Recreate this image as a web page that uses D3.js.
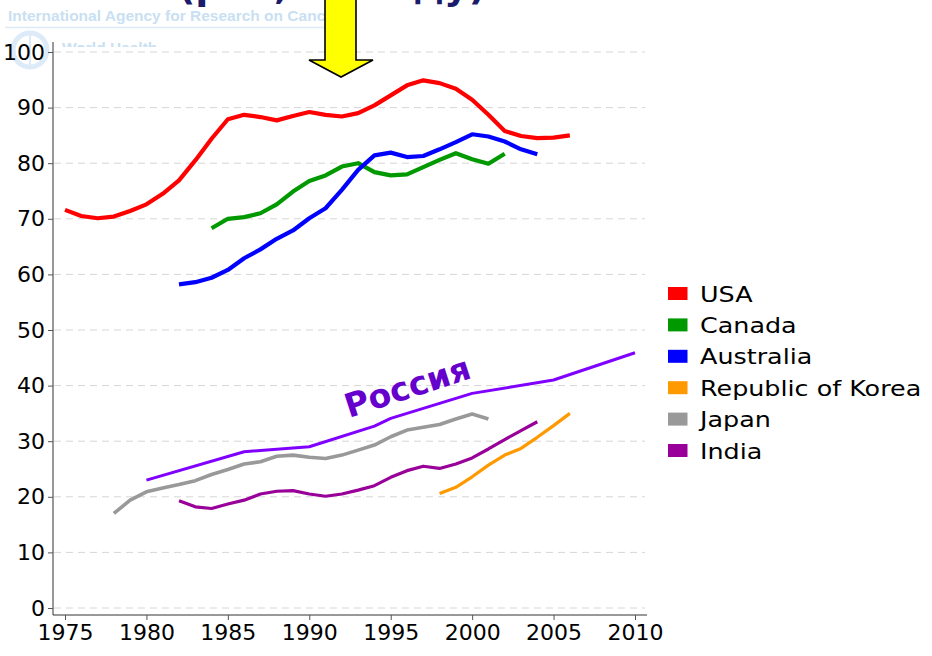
<!DOCTYPE html>
<html>
<head>
<meta charset="utf-8">
<title>Line chart</title>
<script src="https://cdnjs.cloudflare.com/ajax/libs/d3/7.8.5/d3.min.js"></script>
<style>
    body { margin: 0; background: #fff; }
    svg { display: block; font-family: "DejaVu Sans", Verdana, sans-serif; }
</style>
</head>
<body>
<script>

// series as [year, value]
let usa = [[1975,71.6],[1976,70.5],[1977,70.1],[1978,70.4],[1979,71.4],[1980,72.6],[1981,74.5],[1982,76.9],
           [1983,80.5],[1984,84.4],[1985,87.9],[1986,88.7],[1987,88.3],[1988,87.7],[1989,88.5],[1990,89.2],
           [1991,88.7],[1992,88.4],[1993,89.0],[1994,90.4],[1995,92.2],[1996,94.0],[1997,94.9],[1998,94.4],
           [1999,93.4],[2000,91.4],[2001,88.7],[2002,85.8],[2003,84.9],[2004,84.5],[2005,84.6],[2006,85.0]];
let canada = [[1984,68.3],[1985,70.0],[1986,70.3],[1987,71.0],[1988,72.6],[1989,74.9],[1990,76.8],[1991,77.8],
              [1992,79.4],[1993,80.0],[1994,78.4],[1995,77.8],[1996,78.0],[1997,79.3],[1998,80.6],[1999,81.8],
              [2000,80.7],[2001,79.9],[2002,81.7]];
let australia = [[1982,58.2],[1983,58.6],[1984,59.4],[1985,60.8],[1986,62.9],[1987,64.5],[1988,66.4],[1989,67.9],
                 [1990,70.1],[1991,71.9],[1992,75.2],[1993,78.8],[1994,81.4],[1995,81.9],[1996,81.1],[1997,81.3],
                 [1998,82.5],[1999,83.8],[2000,85.2],[2001,84.8],[2002,83.9],[2003,82.5],[2004,81.6]];
let korea = [[1998,20.6],[1999,21.7],[2000,23.6],[2001,25.7],[2002,27.5],[2003,28.7],[2004,30.7],[2005,32.8],[2006,35.0]];
let japan = [[1978,17.0],[1979,19.4],[1980,20.9],[1981,21.6],[1982,22.2],[1983,22.9],[1984,24.0],[1985,24.9],
             [1986,25.9],[1987,26.3],[1988,27.3],[1989,27.5],[1990,27.1],[1991,26.9],[1992,27.5],[1993,28.4],
             [1994,29.3],[1995,30.8],[1996,32.0],[1997,32.5],[1998,33.0],[1999,34.0],[2000,34.9],[2001,34.0]];
let india = [[1982,19.3],[1983,18.2],[1984,17.9],[1985,18.7],[1986,19.4],[1987,20.5],[1988,21.0],[1989,21.1],
             [1990,20.5],[1991,20.1],[1992,20.5],[1993,21.2],[1994,22.0],[1995,23.5],[1996,24.7],[1997,25.5],
             [1998,25.1],[1999,25.9],[2000,27.0],[2001,28.6],[2002,30.3],[2003,31.9],[2004,33.5]];
let russia = [[1980,23.0],[1986,28.1],[1990,29.0],[1994,32.7],[1995,34.1],[2000,38.6],[2005,41.0],[2010,45.9]];

let countries = ["USA", "Canada", "Australia", "Republic of Korea", "Japan", "India"];
let countryColors = ["#ff0000", "#009900", "#0000ff", "#ff9900", "#999999", "#990099"];
let countryData = [usa, canada, australia, korea, japan, india];
let lineWidths = [4.2, 4.2, 4.2, 3.2, 3.6, 3.2];

let yTicks = [0, 10, 20, 30, 40, 50, 60, 70, 80, 90, 100];
let xTicks = [1975, 1980, 1985, 1990, 1995, 2000, 2005, 2010];

let width = 932, height = 656;

let svg = d3.select("body").append("svg")
    .attr("width", width)
    .attr("height", height);

// background watermark (IARC / WHO)
let wm = svg.append("g").attr("fill", "#c9dff2");
wm.append("text")
    .attr("x", 8).attr("y", 21)
    .attr("font-family", "'Liberation Sans', Arial, sans-serif")
    .attr("font-weight", "bold").attr("font-size", 15.5)
    .text("International Agency for Research on Cancer");
wm.append("line")
    .attr("x1", 5).attr("x2", 330).attr("y1", 27.5).attr("y2", 27.5)
    .attr("stroke", "#dcebf7").attr("stroke-width", 1.5);
wm.append("circle").attr("cx", 30).attr("cy", 50).attr("r", 17)
    .attr("fill", "none").attr("stroke", "#dcebf7").attr("stroke-width", 5);
wm.append("line").attr("x1", 30).attr("x2", 30).attr("y1", 32).attr("y2", 68)
    .attr("stroke", "#dcebf7").attr("stroke-width", 2);
wm.append("text")
    .attr("x", 62).attr("y", 53)
    .attr("font-family", "'Liberation Sans', Arial, sans-serif")
    .attr("font-weight", "bold").attr("font-size", 15.5)
    .text("World Health");

// plot paper covers the lower part of the watermark
svg.append("rect")
    .attr("x", 58).attr("y", 47)
    .attr("width", width - 58).attr("height", height - 47)
    .attr("fill", "#fff");

// cut-off title at the very top
svg.append("text")
    .attr("x", 178).attr("y", -1)
    .attr("fill", "#1b1b6b")
    .attr("font-weight", "bold").attr("font-size", 38)
    .text("(рак, по году)");

let x = d3.scaleLinear().domain([1975, 2010]).range([65, 635]);
let y = d3.scaleLinear().domain([0, 100]).range([608, 52]);

// grid
svg.append("g")
    .selectAll("line")
    .data(yTicks)
    .join("line")
        .attr("x1", 54).attr("x2", 645)
        .attr("y1", d => y(d)).attr("y2", d => y(d))
        .attr("stroke", "#d6d6d6")
        .attr("stroke-dasharray", "7,5");

// axes
let yAxis = svg.append("g")
    .attr("transform", "translate(53,0)")
    .call(d3.axisLeft(y).tickValues(yTicks).tickSize(5).tickPadding(3));
yAxis.select(".domain").attr("d", "M0,42V615").attr("stroke", "#333");

let xAxis = svg.append("g")
    .attr("transform", "translate(0,615)")
    .call(d3.axisBottom(x).tickValues(xTicks).tickFormat(d3.format("d")).tickSize(5).tickPadding(4));
xAxis.select(".domain").attr("d", "M53,0H647").attr("stroke", "#333");

svg.selectAll(".tick line").attr("stroke", "#555");
svg.selectAll(".tick text")
    .attr("font-family", "'DejaVu Sans', Verdana, sans-serif")
    .attr("font-size", 22)
    .attr("fill", "#000");

// lines
let line = d3.line()
    .x(d => x(d[0]))
    .y(d => y(d[1]));

svg.append("g")
    .selectAll("path")
    .data(countryData)
    .join("path")
        .attr("d", line)
        .attr("fill", "none")
        .attr("stroke", (d, i) => countryColors[i])
        .attr("stroke-width", (d, i) => lineWidths[i])
        .attr("stroke-linejoin", "round");

svg.append("path")
    .datum(russia)
    .attr("d", line)
    .attr("fill", "none")
    .attr("stroke", "#8000ff")
    .attr("stroke-width", 3)
    .attr("stroke-linejoin", "round");

svg.append("text")
    .attr("transform", "translate(349,418) rotate(-18)")
    .attr("fill", "#6600cc")
    .attr("font-weight", "bold")
    .attr("font-size", 33)
    .text("Россия");

// legend
let legend = svg.append("g")
    .selectAll("g")
    .data(countries)
    .join("g")
        .attr("transform", (d, i) => `translate(668,${287 + i * 31.4})`);

legend.append("rect")
    .attr("width", 19.5).attr("height", 13)
    .attr("fill", (d, i) => countryColors[i]);

legend.append("text")
    .attr("transform", "translate(32,14.5) scale(1.24,1)")
    .attr("font-size", 20.5)
    .attr("fill", "#000")
    .text(d => d);

// yellow arrow on top
svg.append("path")
    .attr("d", "M325,-3H356V60H373L341,77L309,60H325Z")
    .attr("fill", "#ffff00")
    .attr("stroke", "#000")
    .attr("stroke-width", 1.6)
    .attr("stroke-linejoin", "miter");

</script>
</body>
</html>
